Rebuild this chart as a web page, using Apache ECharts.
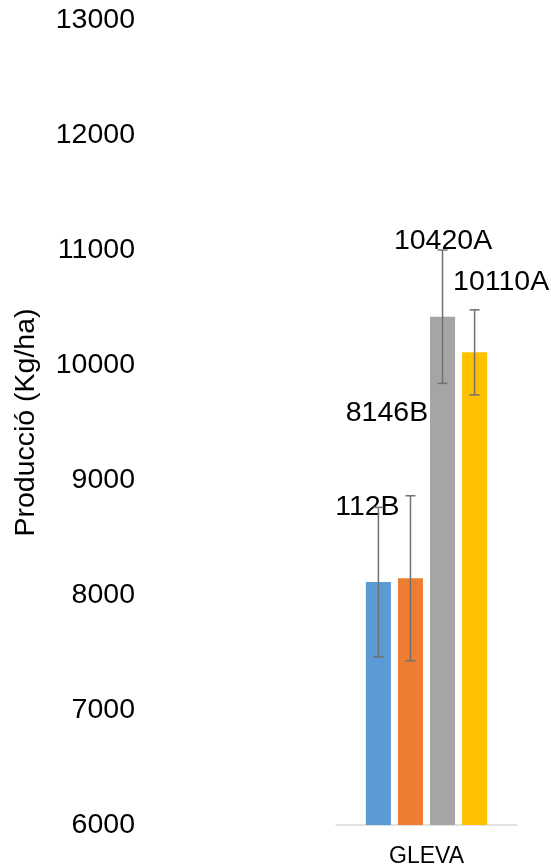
<!DOCTYPE html>
<html>
<head>
<meta charset="utf-8">
<script src="https://cdn.jsdelivr.net/npm/echarts@6/dist/echarts.min.js"></script>
<style>
html,body{margin:0;padding:0;background:#fff;}
#chart{width:551px;height:868px;}
</style>
</head>
<body>
<div id="chart"></div>
<script>
var categories = ['GLEVA'];
var seriesNames = ['T1', 'T2', 'T3', 'T4'];
var values = [8112, 8146, 10420, 10110];
var errors = [650, 717, 580, 370];
var labels = ['112B', '8146B', '10420A', '10110A'];
var colors = ['#5B9BD5', '#ED7D31', '#A5A5A5', '#FFC000'];
var labelOffsets = [[-11, -75], [-23.5, -165], [0.5, -76], [26.5, -70]];

var FONT = '"Liberation Sans", Arial, Helvetica, sans-serif';
var BAR_CAT_GAP = 0.33, BAR_GAP = 0.28, N = values.length;

var series = [];
values.forEach(function (v, i) {
  series.push({
    name: seriesNames[i],
    type: 'bar',
    barCategoryGap: '33%',
    barGap: '28%',
    data: [v],
    itemStyle: { color: colors[i] },
    label: {
      show: true,
      position: 'top',
      distance: 0,
      verticalAlign: 'middle',
      offset: labelOffsets[i],
      formatter: labels[i],
      fontFamily: FONT,
      fontSize: 28.5,
      color: '#000'
    },
    z: 2
  });
});

series.push({
  type: 'custom',
  z: 5,
  data: values.map(function (v, i) { return [0, v, errors[i], i]; }),
  renderItem: function (params, api) {
    var i = api.value(3);
    var val = api.value(1), err = api.value(2);
    var band = api.size([1, 0])[0];
    var bw = band * (1 - BAR_CAT_GAP) / (N + (N - 1) * BAR_GAP);
    var step = bw * (1 + BAR_GAP);
    var c = api.coord([0, val]);
    var x = c[0] + (i - (N - 1) / 2) * step;
    var yHi = api.coord([0, val + err])[1];
    var yLo = api.coord([0, val - err])[1];
    var cap = 5;
    var st = { stroke: '#707070', lineWidth: 1.5 };
    return {
      type: 'group',
      children: [
        { type: 'line', shape: { x1: x, y1: yHi, x2: x, y2: yLo }, style: st },
        { type: 'line', shape: { x1: x - cap, y1: yHi, x2: x + cap, y2: yHi }, style: st },
        { type: 'line', shape: { x1: x - cap, y1: yLo, x2: x + cap, y2: yLo }, style: st }
      ]
    };
  }
});

var chart = echarts.init(document.getElementById('chart'));
chart.setOption({
  animation: false,
  grid: { left: 336, right: 34, top: 20, bottom: 43 },
  xAxis: {
    type: 'category',
    data: categories,
    axisLine: { lineStyle: { color: '#D9D9D9', width: 1.5 } },
    axisTick: { show: false },
    axisLabel: { fontFamily: FONT, fontSize: 23, color: '#000', margin: 20 }
  },
  yAxis: {
    type: 'value',
    min: 6000,
    max: 13000,
    interval: 1000,
    name: 'Producció (Kg/ha)',
    nameLocation: 'middle',
    nameGap: 295,
    nameRotate: 90,
    nameTextStyle: { fontFamily: FONT, fontSize: 28.5, color: '#000' },
    axisLine: { show: false },
    axisTick: { show: false },
    splitLine: { show: false },
    axisLabel: {
      fontFamily: FONT, fontSize: 28.5, color: '#000', margin: 201,
      formatter: function (v) { return String(v); }
    }
  },
  series: series
});
</script>
</body>
</html>
